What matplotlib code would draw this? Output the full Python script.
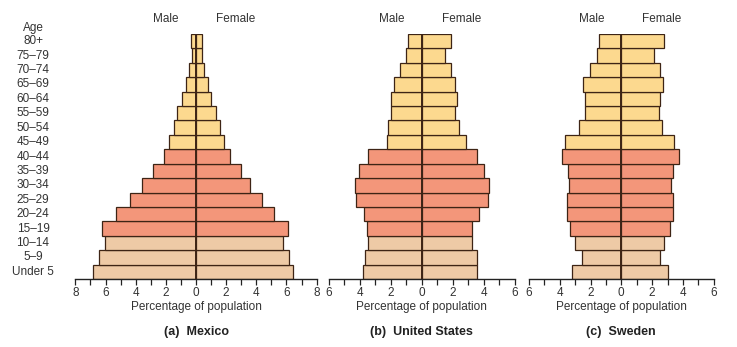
import matplotlib
matplotlib.use("Agg")
import matplotlib.pyplot as plt
from matplotlib.ticker import MultipleLocator, FuncFormatter

plt.rcParams["font.family"] = ["Liberation Sans", "DejaVu Sans"]

ages = ["Under 5", "5\u20139", "10\u201314", "15\u201319", "20\u201324", "25\u201329",
        "30\u201334", "35\u201339", "40\u201344", "45\u201349", "50\u201354", "55\u201359",
        "60\u201364", "65\u201369", "70\u201374", "75\u201379", "80+"]

mexico_male = [6.84, 6.44, 6.04, 6.22, 5.31, 4.36, 3.58, 2.84, 2.13, 1.82, 1.44, 1.24,
               0.91, 0.69, 0.44, 0.29, 0.31]
mexico_female = [6.42, 6.20, 5.78, 6.09, 5.18, 4.36, 3.56, 2.96, 2.24, 1.84, 1.60, 1.31,
                 1.02, 0.82, 0.51, 0.40, 0.40]

us_male = [3.76, 3.67, 3.48, 3.56, 3.73, 4.25, 4.33, 4.06, 3.48, 2.27, 2.17, 1.97,
           1.97, 1.76, 1.37, 0.99, 0.90]
us_female = [3.58, 3.58, 3.26, 3.26, 3.67, 4.27, 4.36, 4.03, 3.58, 2.88, 2.40, 2.17,
             2.30, 2.17, 1.89, 1.48, 1.89]

sweden_male = [3.23, 2.53, 2.99, 3.35, 3.55, 3.55, 3.38, 3.44, 3.83, 3.64, 2.75, 2.36,
               2.36, 2.47, 2.06, 1.56, 1.47]
sweden_female = [3.05, 2.49, 2.75, 3.14, 3.33, 3.33, 3.25, 3.33, 3.72, 3.44, 2.66, 2.45,
                 2.53, 2.73, 2.53, 2.14, 2.75]

panel_titles = ["(a)  Mexico", "(b)  United States", "(c)  Sweden"]
axis_limits = [8, 6, 6]

# colour by life stage: pre-reproductive, reproductive, post-reproductive
COL_YOUNG = "#EECAA6"
COL_REPRO = "#F3967A"
COL_OLD = "#FCD98F"
EDGE = "#3d2415"
TEXT = "#333333"


def age_color(i):
    if i <= 2:
        return COL_YOUNG
    if i <= 8:
        return COL_REPRO
    return COL_OLD


W, H = 737, 347
fig = plt.figure(figsize=(W / 100, H / 100), dpi=100)

# pixel extents of each panel's x axis (left, right) and the bar stack
panel_px = [(75.4, 316.6), (328.7, 514.7), (528.9, 713.7)]
y_bottom, y_top = 279, 34

data = [(mexico_male, mexico_female), (us_male, us_female), (sweden_male, sweden_female)]

for k, ((male, female), lim, (x0, x1), title) in enumerate(
        zip(data, axis_limits, panel_px, panel_titles)):
    ax = fig.add_axes([x0 / W, (H - y_bottom) / H, (x1 - x0) / W, (y_bottom - y_top) / H])
    ypos = [i + 0.5 for i in range(len(ages))]
    colors = [age_color(i) for i in range(len(ages))]
    ax.barh(ypos, [-m for m in male], height=1.0, color=colors, edgecolor=EDGE,
            linewidth=0.9, zorder=2)
    ax.barh(ypos, female, height=1.0, color=colors, edgecolor=EDGE,
            linewidth=0.9, zorder=2)
    ax.plot([0, 0], [0, len(ages)], color=EDGE, linewidth=1.4, zorder=3)
    ax.set_xlim(-lim, lim)
    ax.set_ylim(0, len(ages))
    for side in ("top", "right", "left"):
        ax.spines[side].set_visible(False)
    ax.spines["bottom"].set_color("#222222")
    ax.spines["bottom"].set_linewidth(1.0)
    ax.set_yticks([])
    ax.xaxis.set_major_locator(MultipleLocator(2))
    ax.xaxis.set_minor_locator(MultipleLocator(1))
    ax.xaxis.set_major_formatter(FuncFormatter(lambda v, p: f"{abs(v):.0f}"))
    ax.tick_params(axis="x", which="both", direction="out", length=4, width=0.9,
                   color="#222222", labelsize=8.5, labelcolor=TEXT, pad=2)
    ax.set_xlabel("Percentage of population", fontsize=8.5, color=TEXT, labelpad=1)

    xc = (x0 + x1) / 2
    fig.text((xc - 30) / W, 1 - 19 / H, "Male", ha="center", va="center",
             fontsize=8.5, color=TEXT)
    fig.text((xc + 40) / W, 1 - 19 / H, "Female", ha="center", va="center",
             fontsize=8.5, color=TEXT)
    fig.text(xc / W, 1 - 332 / H, title, ha="center", va="center", fontsize=9,
             fontweight="bold", color="#222222",
             family=["Liberation Sans Narrow", "Liberation Sans", "DejaVu Sans"])

# age labels down the left side
fig.text(33 / W, 1 - 28 / H, "Age", ha="center", va="center", fontsize=8.5, color=TEXT)
row_h = (y_bottom - y_top) / len(ages)
for i, lab in enumerate(ages):
    yc = y_bottom - (i + 0.5) * row_h
    fig.text(33 / W, 1 - yc / H, lab, ha="center", va="center", fontsize=8.5, color=TEXT)

fig.savefig("out.png", dpi=100, facecolor="white")
